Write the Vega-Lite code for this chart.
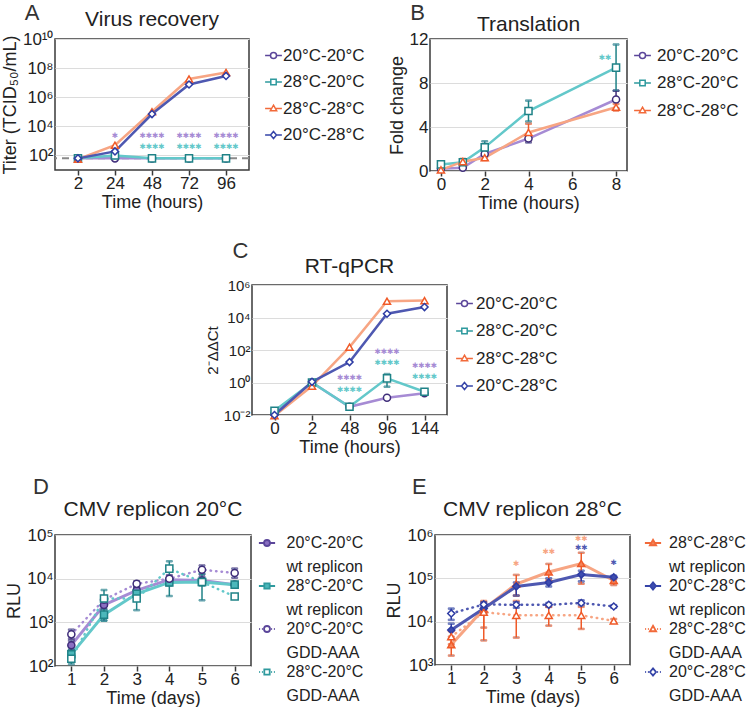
{
  "$schema": "https://vega.github.io/schema/vega-lite/v6.json",
  "padding": {"left": 0, "top": 2, "right": 0, "bottom": 0},
  "background": "white",
  "datasets": {
    "A": [
      {"time": "2", "series": "20°C-20°C", "value": 63}, {"time": "24", "series": "20°C-20°C", "value": 63}, {"time": "48", "series": "20°C-20°C", "value": 63}, {"time": "72", "series": "20°C-20°C", "value": 63}, {"time": "96", "series": "20°C-20°C", "value": 63},
      {"time": "2", "series": "28°C-20°C", "value": 63}, {"time": "24", "series": "28°C-20°C", "value": 100}, {"time": "48", "series": "28°C-20°C", "value": 63}, {"time": "72", "series": "28°C-20°C", "value": 63}, {"time": "96", "series": "28°C-20°C", "value": 63},
      {"time": "2", "series": "28°C-28°C", "value": 55}, {"time": "24", "series": "28°C-28°C", "value": 500}, {"time": "48", "series": "28°C-28°C", "value": 100000}, {"time": "72", "series": "28°C-28°C", "value": 18000000}, {"time": "96", "series": "28°C-28°C", "value": 50000000},
      {"time": "2", "series": "20°C-28°C", "value": 63}, {"time": "24", "series": "20°C-28°C", "value": 190}, {"time": "48", "series": "20°C-28°C", "value": 70000}, {"time": "72", "series": "20°C-28°C", "value": 7500000}, {"time": "96", "series": "20°C-28°C", "value": 29000000}
    ],
    "Aann": [
      {"time": "24", "series": "20°C-20°C", "value": 2100, "label": "✱"},
      {"time": "48", "series": "20°C-20°C", "value": 2100, "label": "✱✱✱✱"},
      {"time": "72", "series": "20°C-20°C", "value": 2100, "label": "✱✱✱✱"},
      {"time": "96", "series": "20°C-20°C", "value": 2100, "label": "✱✱✱✱"},
      {"time": "48", "series": "28°C-20°C", "value": 360, "label": "✱✱✱✱"},
      {"time": "72", "series": "28°C-20°C", "value": 360, "label": "✱✱✱✱"},
      {"time": "96", "series": "28°C-20°C", "value": 360, "label": "✱✱✱✱"}
    ],
    "B": [
      {"time": 0, "series": "20°C-20°C", "value": 0.2},
      {"time": 1, "series": "20°C-20°C", "value": 0.3},
      {"time": 2, "series": "20°C-20°C", "value": 1.55, "lo": 1.3, "hi": 1.8},
      {"time": 4, "series": "20°C-20°C", "value": 2.95, "lo": 2.6, "hi": 3.3},
      {"time": 8, "series": "20°C-20°C", "value": 6.5, "lo": 5.7, "hi": 7.3},
      {"time": 0, "series": "28°C-20°C", "value": 0.6, "lo": 0.4, "hi": 0.8},
      {"time": 1, "series": "28°C-20°C", "value": 0.8, "lo": 0.6, "hi": 1.0},
      {"time": 2, "series": "28°C-20°C", "value": 2.15, "lo": 1.7, "hi": 2.7},
      {"time": 4, "series": "28°C-20°C", "value": 5.45, "lo": 4.5, "hi": 6.4},
      {"time": 8, "series": "28°C-20°C", "value": 9.4, "lo": 7.3, "hi": 11.5},
      {"time": 0, "series": "28°C-28°C", "value": 0.1},
      {"time": 1, "series": "28°C-28°C", "value": 0.85, "lo": 0.6, "hi": 1.1},
      {"time": 2, "series": "28°C-28°C", "value": 1.2, "lo": 1.0, "hi": 1.4},
      {"time": 4, "series": "28°C-28°C", "value": 3.5, "lo": 2.8, "hi": 4.3},
      {"time": 8, "series": "28°C-28°C", "value": 5.8, "lo": 5.5, "hi": 6.1}
    ],
    "Bann": [
      {"time": 7.5, "series": "28°C-20°C", "value": 10.3, "label": "✱✱"}
    ],
    "C": [
      {"time": "0", "series": "20°C-20°C", "value": 0.012}, {"time": "2", "series": "20°C-20°C", "value": 1.0}, {"time": "48", "series": "20°C-20°C", "value": 0.032}, {"time": "96", "series": "20°C-20°C", "value": 0.115}, {"time": "144", "series": "20°C-20°C", "value": 0.22},
      {"time": "0", "series": "28°C-20°C", "value": 0.018, "lo": 0.014, "hi": 0.025}, {"time": "2", "series": "28°C-20°C", "value": 1.0}, {"time": "48", "series": "28°C-20°C", "value": 0.032}, {"time": "96", "series": "28°C-20°C", "value": 1.8, "lo": 0.55, "hi": 3.3}, {"time": "144", "series": "28°C-20°C", "value": 0.27},
      {"time": "0", "series": "28°C-28°C", "value": 0.009}, {"time": "2", "series": "28°C-28°C", "value": 0.6}, {"time": "48", "series": "28°C-28°C", "value": 150}, {"time": "96", "series": "28°C-28°C", "value": 100000}, {"time": "144", "series": "28°C-28°C", "value": 110000},
      {"time": "0", "series": "20°C-28°C", "value": 0.01}, {"time": "2", "series": "20°C-28°C", "value": 1.1}, {"time": "48", "series": "20°C-28°C", "value": 18}, {"time": "96", "series": "20°C-28°C", "value": 17000}, {"time": "144", "series": "20°C-28°C", "value": 44000}
    ],
    "Cann": [
      {"time": "48", "series": "20°C-20°C", "value": 1.9, "label": "✱✱✱✱"},
      {"time": "48", "series": "28°C-20°C", "value": 0.35, "label": "✱✱✱✱"},
      {"time": "96", "series": "20°C-20°C", "value": 75, "label": "✱✱✱✱"},
      {"time": "96", "series": "28°C-20°C", "value": 16, "label": "✱✱✱✱"},
      {"time": "144", "series": "20°C-20°C", "value": 10.4, "label": "✱✱✱✱"},
      {"time": "144", "series": "28°C-20°C", "value": 2.2, "label": "✱✱✱✱"}
    ],
    "D": [
      {"day": 1, "series": "20°C-20°C|wt replicon", "value": 300, "lo": 230, "hi": 380},
      {"day": 2, "series": "20°C-20°C|wt replicon", "value": 2500, "lo": 2000, "hi": 3000},
      {"day": 3, "series": "20°C-20°C|wt replicon", "value": 5400, "lo": 4600, "hi": 6200},
      {"day": 4, "series": "20°C-20°C|wt replicon", "value": 9500, "lo": 8000, "hi": 11000},
      {"day": 5, "series": "20°C-20°C|wt replicon", "value": 9100, "lo": 7500, "hi": 11000},
      {"day": 6, "series": "20°C-20°C|wt replicon", "value": 7300, "lo": 6500, "hi": 8200},
      {"day": 1, "series": "28°C-20°C|wt replicon", "value": 185, "lo": 140, "hi": 240},
      {"day": 2, "series": "28°C-20°C|wt replicon", "value": 1500, "lo": 1100, "hi": 2000},
      {"day": 3, "series": "28°C-20°C|wt replicon", "value": 4500, "lo": 3800, "hi": 5300},
      {"day": 4, "series": "28°C-20°C|wt replicon", "value": 8200, "lo": 7000, "hi": 9500},
      {"day": 5, "series": "28°C-20°C|wt replicon", "value": 8400, "lo": 7000, "hi": 10000},
      {"day": 6, "series": "28°C-20°C|wt replicon", "value": 7300, "lo": 6500, "hi": 8000},
      {"day": 1, "series": "20°C-20°C|GDD-AAA", "value": 530, "lo": 420, "hi": 680},
      {"day": 2, "series": "20°C-20°C|GDD-AAA", "value": 3300, "lo": 2600, "hi": 4000},
      {"day": 3, "series": "20°C-20°C|GDD-AAA", "value": 7600, "lo": 6500, "hi": 8700},
      {"day": 4, "series": "20°C-20°C|GDD-AAA", "value": 10000, "lo": 8500, "hi": 12000},
      {"day": 5, "series": "20°C-20°C|GDD-AAA", "value": 16000, "lo": 12500, "hi": 20000},
      {"day": 6, "series": "20°C-20°C|GDD-AAA", "value": 13500, "lo": 10500, "hi": 17000},
      {"day": 1, "series": "28°C-20°C|GDD-AAA", "value": 147, "lo": 110, "hi": 190},
      {"day": 2, "series": "28°C-20°C|GDD-AAA", "value": 3500, "lo": 1100, "hi": 5500},
      {"day": 3, "series": "28°C-20°C|GDD-AAA", "value": 3500, "lo": 1900, "hi": 6000},
      {"day": 4, "series": "28°C-20°C|GDD-AAA", "value": 17000, "lo": 4000, "hi": 25000},
      {"day": 5, "series": "28°C-20°C|GDD-AAA", "value": 8400, "lo": 3200, "hi": 13000},
      {"day": 6, "series": "28°C-20°C|GDD-AAA", "value": 3900, "lo": 3600, "hi": 4200}
    ],
    "E": [
      {"day": 1, "series": "28°C-28°C|wt replicon", "value": 2950, "lo": 1650, "hi": 4500},
      {"day": 2, "series": "28°C-28°C|wt replicon", "value": 19700, "lo": 7300, "hi": 30000},
      {"day": 3, "series": "28°C-28°C|wt replicon", "value": 74000, "lo": 40000, "hi": 120000},
      {"day": 4, "series": "28°C-28°C|wt replicon", "value": 140000, "lo": 90000, "hi": 215000},
      {"day": 5, "series": "28°C-28°C|wt replicon", "value": 220000, "lo": 75000, "hi": 390000},
      {"day": 6, "series": "28°C-28°C|wt replicon", "value": 89000, "lo": 70000, "hi": 100000},
      {"day": 1, "series": "20°C-28°C|wt replicon", "value": 6400, "lo": 4000, "hi": 9000},
      {"day": 2, "series": "20°C-28°C|wt replicon", "value": 20000, "lo": 16000, "hi": 25000},
      {"day": 3, "series": "20°C-28°C|wt replicon", "value": 65000, "lo": 40000, "hi": 80000},
      {"day": 4, "series": "20°C-28°C|wt replicon", "value": 80000, "lo": 65000, "hi": 100000},
      {"day": 5, "series": "20°C-28°C|wt replicon", "value": 122000, "lo": 85000, "hi": 150000},
      {"day": 6, "series": "20°C-28°C|wt replicon", "value": 106000, "lo": 95000, "hi": 115000},
      {"day": 1, "series": "28°C-28°C|GDD-AAA", "value": 4500, "lo": 3000, "hi": 6000},
      {"day": 2, "series": "28°C-28°C|GDD-AAA", "value": 16500, "lo": 3700, "hi": 28000},
      {"day": 3, "series": "28°C-28°C|GDD-AAA", "value": 14000, "lo": 4300, "hi": 30000},
      {"day": 4, "series": "28°C-28°C|GDD-AAA", "value": 14000, "lo": 8100, "hi": 22000},
      {"day": 5, "series": "28°C-28°C|GDD-AAA", "value": 14000, "lo": 6800, "hi": 22000},
      {"day": 6, "series": "28°C-28°C|GDD-AAA", "value": 10400, "lo": 9500, "hi": 11500},
      {"day": 1, "series": "20°C-28°C|GDD-AAA", "value": 15500, "lo": 11000, "hi": 20000},
      {"day": 2, "series": "20°C-28°C|GDD-AAA", "value": 25000, "lo": 22000, "hi": 28000},
      {"day": 3, "series": "20°C-28°C|GDD-AAA", "value": 24500, "lo": 21000, "hi": 28000},
      {"day": 4, "series": "20°C-28°C|GDD-AAA", "value": 24500, "lo": 22000, "hi": 27000},
      {"day": 5, "series": "20°C-28°C|GDD-AAA", "value": 27000, "lo": 24000, "hi": 31000},
      {"day": 6, "series": "20°C-28°C|GDD-AAA", "value": 22400, "lo": 21000, "hi": 24000}
    ],
    "Eann": [
      {"day": 3, "series": "28°C-28°C|wt replicon", "value": 215000, "label": "✱"},
      {"day": 4, "series": "28°C-28°C|wt replicon", "value": 410000, "label": "✱✱"},
      {"day": 5, "series": "28°C-28°C|wt replicon", "value": 820000, "label": "✱✱"},
      {"day": 5, "series": "20°C-28°C|wt replicon", "value": 510000, "label": "✱✱"},
      {"day": 6, "series": "20°C-28°C|wt replicon", "value": 228000, "label": "✱"}
    ]
  },
  "spacing": 27,
  "resolve": {"scale": {"x": "independent", "y": "independent", "color": "independent", "stroke": "independent", "fill": "independent", "shape": "independent"}},
  "vconcat": [
    {
      "spacing": 13,
      "resolve": {"scale": {"x": "independent", "y": "independent", "color": "independent", "stroke": "independent", "fill": "independent", "shape": "independent"}},
      "hconcat": [
        {
          "title": {"text": "A", "anchor": "start", "frame": "bounds", "fontSize": 22, "color": "#333", "dx": 24, "offset": -17},
          "resolve": {"scale": {"x": "independent", "y": "independent", "color": "independent", "stroke": "independent", "fill": "independent", "shape": "independent"}},
          "vconcat": [
            {
              "title": {"text": "Virus recovery", "frame": "group", "anchor": "middle", "offset": 0},
              "width": 194, "height": 131,
              "resolve": {"scale": {"color": "independent", "stroke": "independent", "fill": "independent", "shape": "independent"}},
              "layer": [
                {
                  "data": {"values": [{"ref": "limit"}]},
                  "mark": {"type": "rule", "strokeDash": [7, 5], "color": "#8a8a8a", "strokeWidth": 2},
                  "encoding": {"y": {"datum": 63, "type": "quantitative"}}
                },
                {
                  "data": {"name": "A"},
                  "mark": {"type": "line", "strokeWidth": 2.5},
                  "encoding": {
                    "x": {"field": "time", "type": "ordinal", "sort": ["2", "24", "48", "72", "96"], "scale": {"type": "point", "padding": 0.62}, "axis": {"title": "Time (hours)", "labelAngle": 0}},
                    "y": {"field": "value", "type": "quantitative", "scale": {"type": "log", "domain": [10, 10000000000]}, "axis": {"title": "Titer (TCID₅₀/mL)", "values": [100, 10000, 1000000, 100000000, 10000000000], "labelExpr": "datum.value > 1e9 ? '10¹⁰' : datum.value > 1e7 ? '10⁸' : datum.value > 1e5 ? '10⁶' : datum.value > 1e3 ? '10⁴' : '10²'"}},
                    "color": {"field": "series", "type": "nominal", "scale": {"domain": ["20°C-20°C", "28°C-20°C", "28°C-28°C", "20°C-28°C"], "range": ["#a68bd4", "#63c8ca", "#f7a583", "#4e58b1"]}, "legend": null}
                  }
                },
                {
                  "data": {"name": "A"},
                  "mark": {"type": "point", "filled": true, "fill": "white", "size": 50, "strokeWidth": 1.5, "opacity": 1},
                  "encoding": {
                    "x": {"field": "time", "type": "ordinal", "sort": ["2", "24", "48", "72", "96"]},
                    "y": {"field": "value", "type": "quantitative"},
                    "shape": {"field": "series", "type": "nominal", "scale": {"domain": ["20°C-20°C", "28°C-20°C", "28°C-28°C", "20°C-28°C"], "range": ["circle", "square", "triangle-up", "diamond"]}, "legend": null},
                    "stroke": {"field": "series", "type": "nominal", "scale": {"domain": ["20°C-20°C", "28°C-20°C", "28°C-28°C", "20°C-28°C"], "range": ["#3f2d7a", "#1f8287", "#f05a28", "#2e3ca4"]}, "legend": null}
                  }
                },
                {
                  "data": {"name": "Aann"},
                  "mark": {"type": "text", "font": "DejaVu Sans", "fontSize": 7.5, "baseline": "middle"},
                  "encoding": {
                    "x": {"field": "time", "type": "ordinal", "sort": ["2", "24", "48", "72", "96"]},
                    "y": {"field": "value", "type": "quantitative"},
                    "text": {"field": "label"},
                    "color": {"field": "series", "type": "nominal", "scale": {"domain": ["20°C-20°C", "28°C-20°C", "28°C-28°C", "20°C-28°C"], "range": ["#a68bd4", "#63c8ca", "#f7a583", "#4e58b1"]}, "legend": null}
                  }
                },
                {
                  "data": {"values": []},
                  "mark": {"type": "point", "filled": true, "fill": "white", "size": 36, "strokeWidth": 1.5, "opacity": 1},
                  "encoding": {
                    "shape": {"field": "series", "type": "nominal", "scale": {"domain": ["20°C-20°C", "28°C-20°C", "28°C-28°C", "20°C-28°C"], "range": ["M-2.8,0H-1M1,0H2.8M-1,0A1,1,0,1,0,1,0A1,1,0,1,0,-1,0Z", "M-2.8,0H-0.9M0.9,0H2.8M-0.9,-0.9H0.9V0.9H-0.9Z", "M-2.8,0H-0.62M0.62,0H2.8M0,-1.1L1.05,0.75H-1.05Z", "M-2.8,0H-1M1,0H2.8M0,-1.2L1,0L0,1.2L-1,0Z"]},
                      "legend": {"title": null, "offset": 8, "padding": 8, "rowPadding": 8.5, "labelOffset": 1, "symbolSize": 36, "symbolStrokeWidth": 1.5, "labelFontSize": 17}},
                    "stroke": {"field": "series", "type": "nominal", "scale": {"domain": ["20°C-20°C", "28°C-20°C", "28°C-28°C", "20°C-28°C"], "range": ["#5b469a", "#2f9a9e", "#f26a3a", "#3544a8"]},
                      "legend": {"title": null, "offset": 8, "padding": 8, "rowPadding": 8.5, "labelOffset": 1, "symbolSize": 36, "symbolStrokeWidth": 1.5, "labelFontSize": 17}}
                  }
                }
              ]
            }
          ]
        },
        {
          "title": {"text": "B", "anchor": "start", "frame": "bounds", "fontSize": 22, "color": "#333", "dx": 23, "offset": -12},
          "resolve": {"scale": {"x": "independent", "y": "independent", "color": "independent", "stroke": "independent", "fill": "independent", "shape": "independent"}},
          "vconcat": [
            {
              "title": {"text": "Translation", "frame": "group", "anchor": "middle", "offset": -5},
              "width": 197, "height": 132,
              "resolve": {"scale": {"color": "independent", "stroke": "independent", "fill": "independent", "shape": "independent"}},
              "layer": [
                {
                  "data": {"name": "B"},
                  "transform": [{"filter": "isValid(datum.lo)"}],
                  "mark": {"type": "errorbar", "ticks": {"size": 6}, "thickness": 1.5},
                  "encoding": {
                    "x": {"field": "time", "type": "quantitative", "scale": {"domain": [-0.5, 8.5], "nice": false, "zero": false}, "axis": {"title": "Time (hours)", "values": [0, 2, 4, 6, 8]}},
                    "y": {"field": "lo", "type": "quantitative", "title": "Fold change"},
                    "y2": {"field": "hi"},
                    "stroke": {"field": "series", "type": "nominal", "scale": {"domain": ["20°C-20°C", "28°C-20°C", "28°C-28°C"], "range": ["#3f2d7a", "#1f8287", "#f05a28"]}, "legend": null}
                  }
                },
                {
                  "data": {"name": "B"},
                  "mark": {"type": "line", "strokeWidth": 2.5},
                  "encoding": {
                    "x": {"field": "time", "type": "quantitative"},
                    "y": {"field": "value", "type": "quantitative", "scale": {"domain": [0, 12], "nice": false}, "axis": {"title": "Fold change", "values": [0, 2, 4, 6, 8, 10, 12]}},
                    "color": {"field": "series", "type": "nominal", "scale": {"domain": ["20°C-20°C", "28°C-20°C", "28°C-28°C"], "range": ["#a68bd4", "#63c8ca", "#f7a583"]}, "legend": null}
                  }
                },
                {
                  "data": {"name": "B"},
                  "mark": {"type": "point", "filled": true, "fill": "white", "size": 50, "strokeWidth": 1.5, "opacity": 1},
                  "encoding": {
                    "x": {"field": "time", "type": "quantitative"},
                    "y": {"field": "value", "type": "quantitative"},
                    "shape": {"field": "series", "type": "nominal", "scale": {"domain": ["20°C-20°C", "28°C-20°C", "28°C-28°C"], "range": ["circle", "square", "triangle-up"]}, "legend": null},
                    "stroke": {"field": "series", "type": "nominal", "scale": {"domain": ["20°C-20°C", "28°C-20°C", "28°C-28°C"], "range": ["#3f2d7a", "#1f8287", "#f05a28"]}, "legend": null}
                  }
                },
                {
                  "data": {"name": "Bann"},
                  "mark": {"type": "text", "font": "DejaVu Sans", "fontSize": 7.5, "baseline": "middle"},
                  "encoding": {
                    "x": {"field": "time", "type": "quantitative"},
                    "y": {"field": "value", "type": "quantitative"},
                    "text": {"field": "label"},
                    "color": {"field": "series", "type": "nominal", "scale": {"domain": ["20°C-20°C", "28°C-20°C", "28°C-28°C"], "range": ["#a68bd4", "#63c8ca", "#f7a583"]}, "legend": null}
                  }
                },
                {
                  "data": {"values": []},
                  "mark": {"type": "point", "filled": true, "fill": "white", "size": 36, "strokeWidth": 1.5, "opacity": 1},
                  "encoding": {
                    "shape": {"field": "series", "type": "nominal", "scale": {"domain": ["20°C-20°C", "28°C-20°C", "28°C-28°C"], "range": ["M-2.8,0H-1M1,0H2.8M-1,0A1,1,0,1,0,1,0A1,1,0,1,0,-1,0Z", "M-2.8,0H-0.9M0.9,0H2.8M-0.9,-0.9H0.9V0.9H-0.9Z", "M-2.8,0H-0.62M0.62,0H2.8M0,-1.1L1.05,0.75H-1.05Z"]},
                      "legend": {"title": null, "offset": -1, "padding": 8, "rowPadding": 9.5, "labelOffset": 6, "symbolSize": 36, "symbolStrokeWidth": 1.5, "labelFontSize": 17}},
                    "stroke": {"field": "series", "type": "nominal", "scale": {"domain": ["20°C-20°C", "28°C-20°C", "28°C-28°C"], "range": ["#5b469a", "#2f9a9e", "#f26a3a"]},
                      "legend": {"title": null, "offset": -1, "padding": 8, "rowPadding": 9.5, "labelOffset": 6, "symbolSize": 36, "symbolStrokeWidth": 1.5, "labelFontSize": 17}}
                  }
                }
              ]
            }
          ]
        }
      ]
    },
    {
      "spacing": 19,
      "resolve": {"scale": {"x": "independent", "y": "independent", "color": "independent", "stroke": "independent", "fill": "independent", "shape": "independent"}},
      "vconcat": [
        {
          "spacing": 0,
          "resolve": {"scale": {"x": "independent", "y": "independent", "color": "independent", "stroke": "independent", "fill": "independent", "shape": "independent"}},
          "hconcat": [
            {"width": 149, "height": 20, "view": {"stroke": null}, "data": {"values": []}, "mark": "point", "encoding": {}},
            {
              "title": {"text": "C", "anchor": "start", "frame": "bounds", "fontSize": 22, "color": "#333", "dx": 28, "offset": -8},
              "resolve": {"scale": {"x": "independent", "y": "independent", "color": "independent", "stroke": "independent", "fill": "independent", "shape": "independent"}},
              "vconcat": [
                {
                  "title": {"text": "RT-qPCR", "frame": "group", "anchor": "middle", "offset": 1},
                  "width": 195, "height": 130,
                  "resolve": {"scale": {"color": "independent", "stroke": "independent", "fill": "independent", "shape": "independent"}},
                  "layer": [
                    {
                      "data": {"name": "C"},
                      "mark": {"type": "line", "strokeWidth": 2.5},
                      "encoding": {
                        "x": {"field": "time", "type": "ordinal", "sort": ["0", "2", "48", "96", "144"], "scale": {"type": "point", "padding": 0.6}, "axis": {"title": "Time (hours)", "labelAngle": 0}},
                        "y": {"field": "value", "type": "quantitative", "scale": {"type": "log", "domain": [0.01, 1000000]}, "axis": {"title": "2⁻ΔΔCt", "titleFontSize": 15, "labelFontSize": 15, "values": [0.01, 1, 100, 10000, 1000000], "labelExpr": "datum.value < 0.1 ? '10⁻²' : datum.value < 10 ? '10⁰' : datum.value < 1000 ? '10²' : datum.value < 100000 ? '10⁴' : '10⁶'"}},
                        "color": {"field": "series", "type": "nominal", "scale": {"domain": ["20°C-20°C", "28°C-20°C", "28°C-28°C", "20°C-28°C"], "range": ["#a68bd4", "#63c8ca", "#f7a583", "#4e58b1"]}, "legend": null}
                      }
                    },
                    {
                      "data": {"name": "C"},
                      "transform": [{"filter": "isValid(datum.lo)"}],
                      "mark": {"type": "errorbar", "ticks": {"size": 6}, "thickness": 1.5},
                      "encoding": {
                        "x": {"field": "time", "type": "ordinal", "sort": ["0", "2", "48", "96", "144"]},
                        "y": {"field": "lo", "type": "quantitative", "title": "2⁻ΔΔCt"},
                        "y2": {"field": "hi"},
                        "stroke": {"field": "series", "type": "nominal", "scale": {"domain": ["20°C-20°C", "28°C-20°C", "28°C-28°C", "20°C-28°C"], "range": ["#3f2d7a", "#1f8287", "#f05a28", "#2e3ca4"]}, "legend": null}
                      }
                    },
                    {
                      "data": {"name": "C"},
                      "mark": {"type": "point", "filled": true, "fill": "white", "size": 50, "strokeWidth": 1.5, "opacity": 1},
                      "encoding": {
                        "x": {"field": "time", "type": "ordinal", "sort": ["0", "2", "48", "96", "144"]},
                        "y": {"field": "value", "type": "quantitative"},
                        "shape": {"field": "series", "type": "nominal", "scale": {"domain": ["20°C-20°C", "28°C-20°C", "28°C-28°C", "20°C-28°C"], "range": ["circle", "square", "triangle-up", "diamond"]}, "legend": null},
                        "stroke": {"field": "series", "type": "nominal", "scale": {"domain": ["20°C-20°C", "28°C-20°C", "28°C-28°C", "20°C-28°C"], "range": ["#3f2d7a", "#1f8287", "#f05a28", "#2e3ca4"]}, "legend": null}
                      }
                    },
                    {
                      "data": {"name": "Cann"},
                      "mark": {"type": "text", "font": "DejaVu Sans", "fontSize": 7.5, "baseline": "middle"},
                      "encoding": {
                        "x": {"field": "time", "type": "ordinal", "sort": ["0", "2", "48", "96", "144"]},
                        "y": {"field": "value", "type": "quantitative"},
                        "text": {"field": "label"},
                        "color": {"field": "series", "type": "nominal", "scale": {"domain": ["20°C-20°C", "28°C-20°C", "28°C-28°C", "20°C-28°C"], "range": ["#a68bd4", "#63c8ca", "#f7a583", "#4e58b1"]}, "legend": null}
                      }
                    },
                    {
                      "data": {"values": []},
                      "mark": {"type": "point", "filled": true, "fill": "white", "size": 36, "strokeWidth": 1.5, "opacity": 1},
                      "encoding": {
                        "shape": {"field": "series", "type": "nominal", "scale": {"domain": ["20°C-20°C", "28°C-20°C", "28°C-28°C", "20°C-28°C"], "range": ["M-2.8,0H-1M1,0H2.8M-1,0A1,1,0,1,0,1,0A1,1,0,1,0,-1,0Z", "M-2.8,0H-0.9M0.9,0H2.8M-0.9,-0.9H0.9V0.9H-0.9Z", "M-2.8,0H-0.62M0.62,0H2.8M0,-1.1L1.05,0.75H-1.05Z", "M-2.8,0H-1M1,0H2.8M0,-1.2L1,0L0,1.2L-1,0Z"]},
                          "legend": {"title": null, "offset": -1, "padding": 10, "rowPadding": 9.5, "labelOffset": 3, "symbolSize": 36, "symbolStrokeWidth": 1.5, "labelFontSize": 17}},
                        "stroke": {"field": "series", "type": "nominal", "scale": {"domain": ["20°C-20°C", "28°C-20°C", "28°C-28°C", "20°C-28°C"], "range": ["#5b469a", "#2f9a9e", "#f26a3a", "#3544a8"]},
                          "legend": {"title": null, "offset": -1, "padding": 10, "rowPadding": 9.5, "labelOffset": 3, "symbolSize": 36, "symbolStrokeWidth": 1.5, "labelFontSize": 17}}
                      }
                    }
                  ]
                }
              ]
            }
          ]
        },
        {
          "spacing": 20,
          "resolve": {"scale": {"x": "independent", "y": "independent", "color": "independent", "stroke": "independent", "fill": "independent", "shape": "independent"}},
          "hconcat": [
            {
              "title": {"text": "D", "anchor": "start", "frame": "bounds", "fontSize": 22, "color": "#333", "dx": 28, "offset": -1},
              "resolve": {"scale": {"x": "independent", "y": "independent", "color": "independent", "stroke": "independent", "fill": "independent", "shape": "independent"}},
              "vconcat": [
                {
                  "title": {"text": "CMV replicon 20°C", "frame": "group", "anchor": "middle", "offset": 6},
                  "width": 196, "height": 131,
                  "resolve": {"scale": {"color": "independent", "stroke": "independent", "fill": "independent", "shape": "independent"}},
                  "layer": [
                    {
                      "data": {"name": "D"},
                      "transform": [{"filter": "indexof(datum.series, 'wt') >= 0"}],
                      "mark": {"type": "line", "strokeWidth": 3},
                      "encoding": {
                        "x": {"field": "day", "type": "ordinal", "scale": {"type": "point", "padding": 0.5}, "axis": {"title": "Time (days)", "labelAngle": 0}},
                        "y": {"field": "value", "type": "quantitative", "scale": {"type": "log", "domain": [100, 100000]}, "axis": {"title": "RLU", "values": [100, 1000, 10000, 100000], "labelExpr": "datum.value > 50000 ? '10⁵' : datum.value > 5000 ? '10⁴' : datum.value > 500 ? '10³' : '10²'"}},
                        "color": {"field": "series", "type": "nominal", "scale": {"domain": ["20°C-20°C|wt replicon", "28°C-20°C|wt replicon"], "range": ["#a68bd4", "#63c8ca"]}, "legend": null}
                      }
                    },
                    {
                      "data": {"name": "D"},
                      "transform": [{"filter": "indexof(datum.series, 'GDD') >= 0"}],
                      "mark": {"type": "line", "strokeWidth": 2.5, "strokeDash": [0.5, 5], "strokeCap": "round"},
                      "encoding": {
                        "x": {"field": "day", "type": "ordinal"},
                        "y": {"field": "value", "type": "quantitative"},
                        "color": {"field": "series", "type": "nominal", "scale": {"domain": ["20°C-20°C|GDD-AAA", "28°C-20°C|GDD-AAA"], "range": ["#a68bd4", "#63c8ca"]}, "legend": null}
                      }
                    },
                    {
                      "data": {"name": "D"},
                      "mark": {"type": "errorbar", "ticks": {"size": 6}, "thickness": 1.5},
                      "encoding": {
                        "x": {"field": "day", "type": "ordinal"},
                        "y": {"field": "lo", "type": "quantitative", "title": "RLU"},
                        "y2": {"field": "hi"},
                        "stroke": {"field": "series", "type": "nominal", "scale": {"domain": ["20°C-20°C|wt replicon", "28°C-20°C|wt replicon", "20°C-20°C|GDD-AAA", "28°C-20°C|GDD-AAA"], "range": ["#3f2d7a", "#1f8287", "#3f2d7a", "#1f8287"]}, "legend": null}
                      }
                    },
                    {
                      "data": {"name": "D"},
                      "mark": {"type": "point", "filled": true, "size": 50, "strokeWidth": 1.5, "opacity": 1},
                      "encoding": {
                        "x": {"field": "day", "type": "ordinal"},
                        "y": {"field": "value", "type": "quantitative"},
                        "shape": {"field": "series", "type": "nominal", "scale": {"domain": ["20°C-20°C|wt replicon", "28°C-20°C|wt replicon", "20°C-20°C|GDD-AAA", "28°C-20°C|GDD-AAA"], "range": ["circle", "square", "circle", "square"]}, "legend": null},
                        "stroke": {"field": "series", "type": "nominal", "scale": {"domain": ["20°C-20°C|wt replicon", "28°C-20°C|wt replicon", "20°C-20°C|GDD-AAA", "28°C-20°C|GDD-AAA"], "range": ["#3f2d7a", "#1f8287", "#3f2d7a", "#1f8287"]}, "legend": null},
                        "fill": {"field": "series", "type": "nominal", "scale": {"domain": ["20°C-20°C|wt replicon", "28°C-20°C|wt replicon", "20°C-20°C|GDD-AAA", "28°C-20°C|GDD-AAA"], "range": ["#8a6fc2", "#4cb8bb", "white", "white"]}, "legend": null}
                      }
                    },
                    {
                      "data": {"values": []},
                      "mark": {"type": "point", "filled": true, "size": 36, "strokeWidth": 1.8, "opacity": 1},
                      "encoding": {
                        "shape": {"field": "series", "type": "nominal", "scale": {"domain": ["20°C-20°C|wt replicon", "28°C-20°C|wt replicon", "20°C-20°C|GDD-AAA", "28°C-20°C|GDD-AAA"], "range": ["M-2.7,0H-1M1,0H2.7M-1,0A1,1,0,1,0,1,0A1,1,0,1,0,-1,0Z", "M-2.7,0H-0.9M0.9,0H2.7M-0.9,-0.9H0.9V0.9H-0.9Z", "M-2.6,0H-2.3M-1.7,0H-1.4M1.4,0H1.7M2.3,0H2.6M-1,0A1,1,0,1,0,1,0A1,1,0,1,0,-1,0Z", "M-2.6,0H-2.3M-1.7,0H-1.4M1.4,0H1.7M2.3,0H2.6M-0.9,-0.9H0.9V0.9H-0.9Z"]},
                          "legend": {"title": null, "offset": 7.5, "padding": 0, "rowPadding": 3, "labelOffset": 11.5, "symbolSize": 36, "symbolStrokeWidth": 1.8, "labelFontSize": 16, "labelExpr": "split(datum.label, '|')"}},
                        "stroke": {"field": "series", "type": "nominal", "scale": {"domain": ["20°C-20°C|wt replicon", "28°C-20°C|wt replicon", "20°C-20°C|GDD-AAA", "28°C-20°C|GDD-AAA"], "range": ["#5b469a", "#2f9a9e", "#5b469a", "#2f9a9e"]},
                          "legend": {"title": null, "offset": 7.5, "padding": 0, "rowPadding": 3, "labelOffset": 11.5, "symbolSize": 36, "symbolStrokeWidth": 1.8, "labelFontSize": 16, "labelExpr": "split(datum.label, '|')"}},
                        "fill": {"field": "series", "type": "nominal", "scale": {"domain": ["20°C-20°C|wt replicon", "28°C-20°C|wt replicon", "20°C-20°C|GDD-AAA", "28°C-20°C|GDD-AAA"], "range": ["#8a6fc2", "#4cb8bb", "white", "white"]},
                          "legend": {"title": null, "offset": 7.5, "padding": 0, "rowPadding": 3, "labelOffset": 11.5, "symbolSize": 36, "symbolStrokeWidth": 1.8, "labelFontSize": 16, "labelExpr": "split(datum.label, '|')"}}
                      }
                    }
                  ]
                }
              ]
            },
            {
              "title": {"text": "E", "anchor": "start", "frame": "bounds", "fontSize": 22, "color": "#333", "dx": 27, "offset": -1},
              "resolve": {"scale": {"x": "independent", "y": "independent", "color": "independent", "stroke": "independent", "fill": "independent", "shape": "independent"}},
              "vconcat": [
                {
                  "title": {"text": "CMV replicon 28°C", "frame": "group", "anchor": "middle", "offset": 6},
                  "width": 195, "height": 130,
                  "resolve": {"scale": {"color": "independent", "stroke": "independent", "fill": "independent", "shape": "independent"}},
                  "layer": [
                    {
                      "data": {"name": "E"},
                      "transform": [{"filter": "indexof(datum.series, 'wt') >= 0"}],
                      "mark": {"type": "line", "strokeWidth": 3},
                      "encoding": {
                        "x": {"field": "day", "type": "ordinal", "scale": {"type": "point", "padding": 0.5}, "axis": {"title": "Time (days)", "labelAngle": 0}},
                        "y": {"field": "value", "type": "quantitative", "scale": {"type": "log", "domain": [1000, 1000000]}, "axis": {"title": "RLU", "values": [1000, 10000, 100000, 1000000], "labelExpr": "datum.value > 500000 ? '10⁶' : datum.value > 50000 ? '10⁵' : datum.value > 5000 ? '10⁴' : '10³'"}},
                        "color": {"field": "series", "type": "nominal", "scale": {"domain": ["28°C-28°C|wt replicon", "20°C-28°C|wt replicon"], "range": ["#f7a583", "#4e58b1"]}, "legend": null}
                      }
                    },
                    {
                      "data": {"name": "E"},
                      "transform": [{"filter": "indexof(datum.series, 'GDD') >= 0"}],
                      "mark": {"type": "line", "strokeWidth": 2.5, "strokeDash": [0.5, 5], "strokeCap": "round"},
                      "encoding": {
                        "x": {"field": "day", "type": "ordinal"},
                        "y": {"field": "value", "type": "quantitative"},
                        "color": {"field": "series", "type": "nominal", "scale": {"domain": ["28°C-28°C|GDD-AAA", "20°C-28°C|GDD-AAA"], "range": ["#f7a583", "#4e58b1"]}, "legend": null}
                      }
                    },
                    {
                      "data": {"name": "E"},
                      "mark": {"type": "errorbar", "ticks": {"size": 6}, "thickness": 1.5},
                      "encoding": {
                        "x": {"field": "day", "type": "ordinal"},
                        "y": {"field": "lo", "type": "quantitative", "title": "RLU"},
                        "y2": {"field": "hi"},
                        "stroke": {"field": "series", "type": "nominal", "scale": {"domain": ["28°C-28°C|wt replicon", "20°C-28°C|wt replicon", "28°C-28°C|GDD-AAA", "20°C-28°C|GDD-AAA"], "range": ["#f05a28", "#2e3ca4", "#f05a28", "#2e3ca4"]}, "legend": null}
                      }
                    },
                    {
                      "data": {"name": "E"},
                      "mark": {"type": "point", "filled": true, "size": 50, "strokeWidth": 1.5, "opacity": 1},
                      "encoding": {
                        "x": {"field": "day", "type": "ordinal"},
                        "y": {"field": "value", "type": "quantitative"},
                        "shape": {"field": "series", "type": "nominal", "scale": {"domain": ["28°C-28°C|wt replicon", "20°C-28°C|wt replicon", "28°C-28°C|GDD-AAA", "20°C-28°C|GDD-AAA"], "range": ["triangle-up", "diamond", "triangle-up", "diamond"]}, "legend": null},
                        "stroke": {"field": "series", "type": "nominal", "scale": {"domain": ["28°C-28°C|wt replicon", "20°C-28°C|wt replicon", "28°C-28°C|GDD-AAA", "20°C-28°C|GDD-AAA"], "range": ["#f05a28", "#2e3ca4", "#f05a28", "#2e3ca4"]}, "legend": null},
                        "fill": {"field": "series", "type": "nominal", "scale": {"domain": ["28°C-28°C|wt replicon", "20°C-28°C|wt replicon", "28°C-28°C|GDD-AAA", "20°C-28°C|GDD-AAA"], "range": ["#f4845a", "#3e4db0", "white", "white"]}, "legend": null}
                      }
                    },
                    {
                      "data": {"name": "Eann"},
                      "mark": {"type": "text", "font": "DejaVu Sans", "fontSize": 7.5, "baseline": "middle"},
                      "encoding": {
                        "x": {"field": "day", "type": "ordinal"},
                        "y": {"field": "value", "type": "quantitative"},
                        "text": {"field": "label"},
                        "color": {"field": "series", "type": "nominal", "scale": {"domain": ["28°C-28°C|wt replicon", "20°C-28°C|wt replicon"], "range": ["#f7a583", "#4e58b1"]}, "legend": null}
                      }
                    },
                    {
                      "data": {"values": []},
                      "mark": {"type": "point", "filled": true, "size": 36, "strokeWidth": 1.8, "opacity": 1},
                      "encoding": {
                        "shape": {"field": "series", "type": "nominal", "scale": {"domain": ["28°C-28°C|wt replicon", "20°C-28°C|wt replicon", "28°C-28°C|GDD-AAA", "20°C-28°C|GDD-AAA"], "range": ["M-2.7,0H-0.62M0.62,0H2.7M0,-1.1L1.05,0.75H-1.05Z", "M-2.7,0H-1M1,0H2.7M0,-1.2L1,0L0,1.2L-1,0Z", "M-2.6,0H-2.3M-1.7,0H-1.4M1.4,0H1.7M2.3,0H2.6M0,-1.1L1.05,0.75H-1.05Z", "M-2.6,0H-2.3M-1.7,0H-1.4M1.4,0H1.7M2.3,0H2.6M0,-1.2L1,0L0,1.2L-1,0Z"]},
                          "legend": {"title": null, "offset": 14.6, "padding": 0, "rowPadding": 3, "labelOffset": 8, "symbolSize": 36, "symbolStrokeWidth": 1.8, "labelFontSize": 16, "labelExpr": "split(datum.label, '|')"}},
                        "stroke": {"field": "series", "type": "nominal", "scale": {"domain": ["28°C-28°C|wt replicon", "20°C-28°C|wt replicon", "28°C-28°C|GDD-AAA", "20°C-28°C|GDD-AAA"], "range": ["#f26a3a", "#3544a8", "#f26a3a", "#3544a8"]},
                          "legend": {"title": null, "offset": 14.6, "padding": 0, "rowPadding": 3, "labelOffset": 8, "symbolSize": 36, "symbolStrokeWidth": 1.8, "labelFontSize": 16, "labelExpr": "split(datum.label, '|')"}},
                        "fill": {"field": "series", "type": "nominal", "scale": {"domain": ["28°C-28°C|wt replicon", "20°C-28°C|wt replicon", "28°C-28°C|GDD-AAA", "20°C-28°C|GDD-AAA"], "range": ["#f4845a", "#3e4db0", "white", "white"]},
                          "legend": {"title": null, "offset": 14.6, "padding": 0, "rowPadding": 3, "labelOffset": 8, "symbolSize": 36, "symbolStrokeWidth": 1.8, "labelFontSize": 16, "labelExpr": "split(datum.label, '|')"}}
                      }
                    }
                  ]
                }
              ]
            }
          ]
        }
      ]
    }
  ],
  "config": {
    "font": "Liberation Sans",
    "view": {"stroke": "#3a3a3a", "strokeWidth": 1.5},
    "axis": {"domain": false, "labelFontSize": 17, "titleFontSize": 18, "titleFontWeight": "normal", "labelColor": "#222", "titleColor": "#222", "gridColor": "#dcdcdc", "gridWidth": 1, "tickColor": "#3a3a3a", "labelFont": "Liberation Sans", "titleFont": "Liberation Sans"},
    "axisX": {"grid": false, "tickSize": 5, "tickWidth": 1.5, "labelPadding": 0, "titlePadding": 2, "labelOverlap": false},
    "axisY": {"ticks": false, "grid": true, "labelPadding": 2, "titlePadding": 3},
    "title": {"fontSize": 21, "fontWeight": "normal", "color": "#222", "font": "Liberation Sans"},
    "legend": {"labelFont": "Liberation Sans", "labelColor": "#222"},
    "style": {"guide-label": {"lineHeight": 24}}
  }
}
